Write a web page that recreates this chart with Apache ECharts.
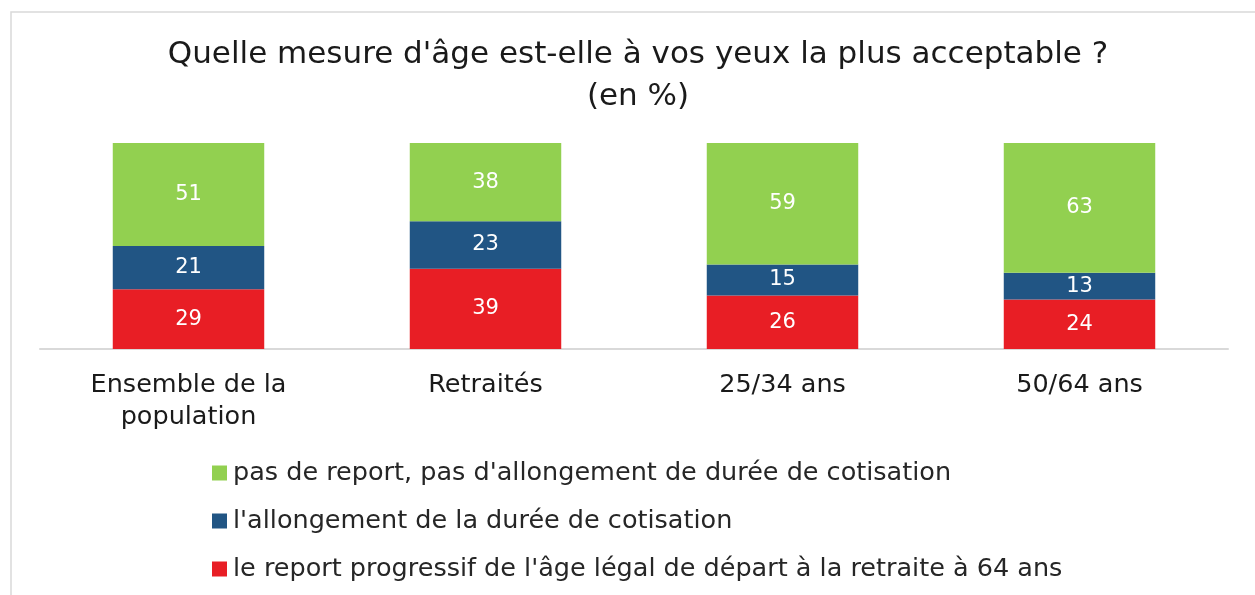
<!DOCTYPE html>
<html>
<head>
<meta charset="utf-8">
<script src="https://cdn.jsdelivr.net/npm/echarts@6/dist/echarts.min.js"></script>
<style>
  html, body { margin: 0; padding: 0; background: #fff; }
  #chart { width: 1255px; height: 595px; }
</style>
</head>
<body>
<div id="chart"></div>
<script>
// categories and values (en %)
const categories = ['Ensemble de la\npopulation', 'Retraités', '25/34 ans', '50/64 ans'];
const reportValues = [29, 39, 26, 24];
const allongementValues = [21, 23, 15, 13];
const pasDeReportValues = [51, 38, 59, 63];

const seriesNames = [
    "le report progressif de l'âge légal de départ à la retraite à 64 ans",
    "l'allongement de la durée de cotisation",
    "pas de report, pas d'allongement de durée de cotisation"
];
const colors = ['#e81e25', '#215584', '#92d050'];

const fontFamily = '"DejaVu Sans", "Open Sans", sans-serif';

const chart = echarts.init(document.getElementById('chart'));

const labelStyle = {
    show: true,
    position: 'inside',
    color: '#fff',
    fontSize: 21,
    fontFamily
};

chart.setOption({
    animation: false,
    title: {
        text: "Quelle mesure d'âge est-elle à vos yeux la plus acceptable ?\n(en %)",
        left: 633,
        textAlign: 'center',
        top: 29,
        textStyle: {
            fontSize: 31,
            fontWeight: 'normal',
            color: '#1a1a1a',
            lineHeight: 42,
            fontFamily
        }
    },
    graphic: [
        {
            type: 'rect',
            shape: { x: 11, y: 12, width: 1300, height: 650 },
            style: { fill: 'none', stroke: '#d9d9d9', lineWidth: 1.5 },
            silent: true
        }
    ],
    legend: {
        orient: 'vertical',
        left: 207,
        top: 455,
        itemWidth: 15,
        itemHeight: 15,
        itemGap: 22,
        icon: 'rect',
        data: [seriesNames[2], seriesNames[1], seriesNames[0]],
        textStyle: {
            fontSize: 25.5,
            color: '#262626',
            lineHeight: 26,
            padding: [0, 0, 0, 1],
            fontFamily
        }
    },
    grid: {
        left: 40,
        right: 27,
        top: 143,
        bottom: 246,
        containLabel: false
    },
    xAxis: {
        type: 'category',
        data: categories,
        axisLine: { lineStyle: { color: '#d9d9d9', width: 2 } },
        axisTick: { show: false },
        axisLabel: {
            margin: 20,
            fontSize: 25.5,
            color: '#1a1a1a',
            lineHeight: 32,
            fontFamily
        }
    },
    yAxis: {
        type: 'value',
        min: 0,
        max: 100,
        show: false,
        splitLine: { show: false }
    },
    series: [
        {
            name: seriesNames[0],
            type: 'bar',
            stack: 'total',
            barWidth: '51%',
            data: reportValues,
            itemStyle: { color: colors[0] },
            label: labelStyle
        },
        {
            name: seriesNames[1],
            type: 'bar',
            stack: 'total',
            barWidth: '51%',
            data: allongementValues,
            itemStyle: { color: colors[1] },
            label: labelStyle
        },
        {
            name: seriesNames[2],
            type: 'bar',
            stack: 'total',
            barWidth: '51%',
            data: pasDeReportValues,
            itemStyle: { color: colors[2] },
            label: labelStyle
        }
    ]
});
</script>
</body>
</html>
